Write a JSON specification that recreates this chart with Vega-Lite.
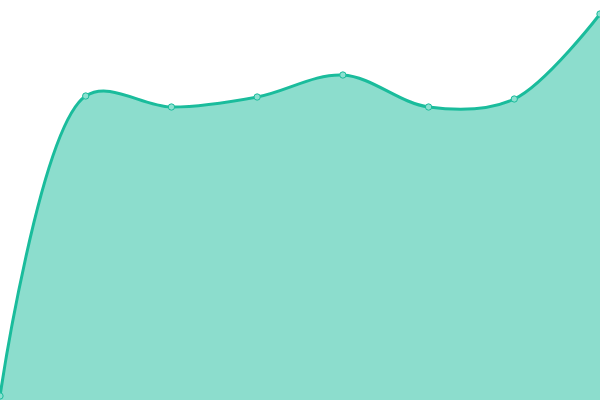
{
  "$schema": "https://vega.github.io/schema/vega-lite/v6.json",
  "width": 600,
  "height": 400,
  "autosize": {"type": "none"},
  "padding": 0,
  "background": "white",
  "config": {"view": {"stroke": null}},
  "data": {"values": [
    {"i": 0, "v": 4},
    {"i": 1, "v": 304},
    {"i": 2, "v": 293},
    {"i": 3, "v": 303},
    {"i": 4, "v": 325},
    {"i": 5, "v": 293},
    {"i": 6, "v": 301},
    {"i": 7, "v": 386}
  ]},
  "encoding": {
    "x": {"field": "i", "type": "quantitative", "scale": {"domain": [0, 7], "nice": false, "zero": false}, "axis": null},
    "y": {"field": "v", "type": "quantitative", "scale": {"domain": [0, 400], "nice": false}, "axis": null}
  },
  "layer": [
    {"mark": {"type": "area", "interpolate": "catmull-rom", "color": "#1abc9c", "opacity": 0.5}},
    {"mark": {"type": "line", "interpolate": "catmull-rom", "color": "#1abc9c", "strokeWidth": 3}},
    {"mark": {"type": "point", "filled": true, "fill": "#8ce0d0", "stroke": "#1abc9c", "strokeWidth": 1, "size": 40, "opacity": 1}}
  ]
}
